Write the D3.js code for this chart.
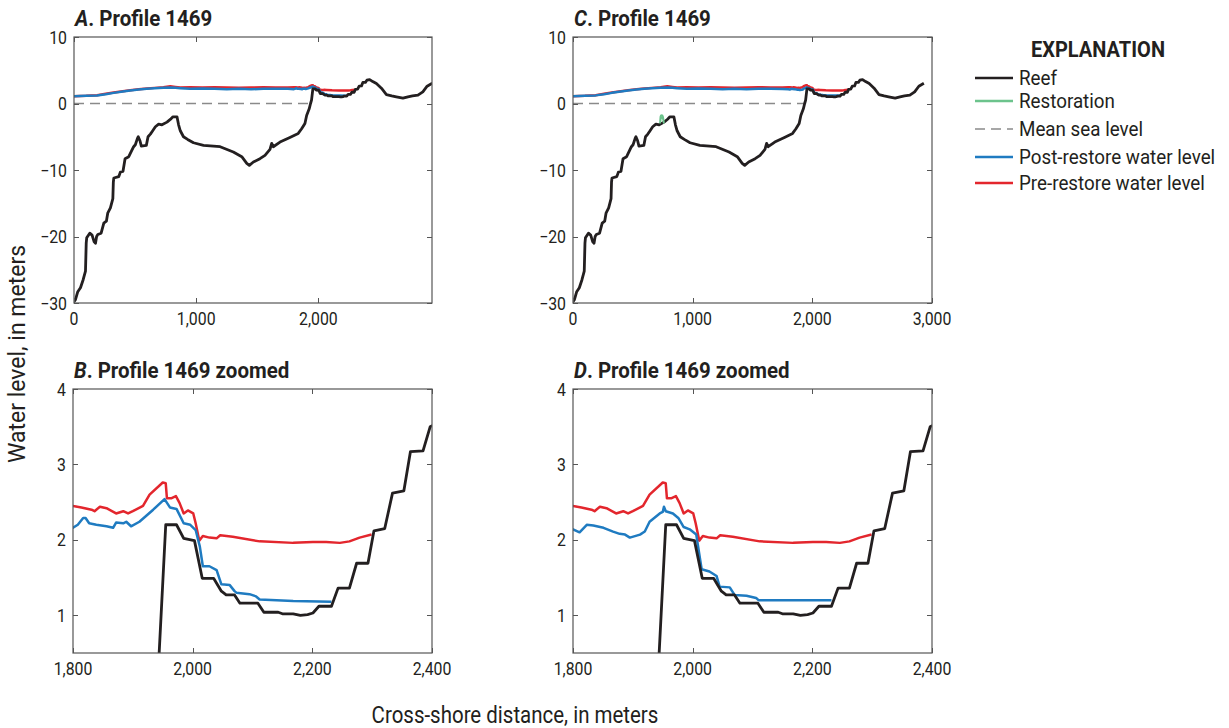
<!DOCTYPE html>
<html><head><meta charset="utf-8">
<script src="https://cdn.jsdelivr.net/npm/d3@7"></script>
<style>
body{margin:0;background:#fff;}
svg{display:block;font-family:Roboto,"Liberation Sans",sans-serif;}
</style></head>
<body><svg id="chart" width="1229" height="728"></svg>
<script>
// ---------- DATA ----------
const reefX = [0,12,31,53,75,94,100,104,129,148,165,176,185,195,222,244,265,276,298,318,322,326,366,380,401,418,448,469,488,502,520,526,540,551,592,606,625,640,666,693,720,761,788,810,843,856,870,896,930,978,1060,1196,1304,1373,1414,1435,1468,1522,1563,1604,1618,1631,1686,1767,1835,1863,1890,1904,1925,1936,1944,1955,1973,1985,2003,2016,2035,2048,2056,2070,2079,2109,2119,2143,2150,2168,2180,2192,2201,2211,2232,2243,2262,2274,2293,2303,2321,2334,2353,2364,2385,2397,2420,2445,2475,2516,2557,2600,2638,2692,2733,2770,2815,2855,2890,2932];
const reefY = [-29.8,-29.5,-28.3,-27.7,-26.5,-25.2,-21,-20.2,-19.5,-19.8,-20.8,-21,-20,-19.7,-19.5,-18,-17.7,-16.5,-15.7,-14.3,-11.8,-11.2,-11,-10.3,-10.2,-8.3,-8,-7.2,-6.5,-6.2,-5.2,-5,-5.6,-6.4,-6.3,-5.0,-4.6,-4.2,-3.5,-3.1,-3.2,-2.8,-2.4,-2.0,-2.0,-3.2,-4.1,-5.0,-5.4,-5.9,-6.3,-6.5,-7.3,-8.0,-9.0,-9.3,-8.8,-8.3,-7.8,-6.9,-6.0,-6.5,-5.8,-5.1,-4.5,-3.8,-3.0,-1.8,-0.8,0.0,0.5,2.2,2.2,2.02,1.99,1.49,1.49,1.32,1.27,1.27,1.16,1.16,1.04,1.04,1.02,1.02,1.0,1.01,1.03,1.12,1.12,1.36,1.36,1.69,1.69,2.12,2.15,2.62,2.65,3.17,3.18,3.5,3.6,3.3,3.0,2.3,1.35,1.15,1.0,0.8,1.0,1.15,1.25,1.75,2.6,3.05];

const restorationX = [727,729,731,735,741,747,752,756,759,760,758,755,750,744,738,733,730,727];
const restorationY = [-3.0,-2.4,-2.0,-1.8,-1.75,-1.8,-2.0,-2.4,-2.8,-3.0,-2.9,-2.5,-2.2,-2.1,-2.1,-2.3,-2.7,-3.0];

const mslX = [0,1935];
const mslY = [0,0];

const preX = [0,100,189,260,325,400,460,530,596,660,732,788,830,870,950,1050,1150,1250,1350,1450,1550,1650,1750,1800,1814,1831,1836,1845,1856,1872,1884,1892,1900,1917,1928,1950,1955,1957,1964,1972,1978,1985,1992,2001,2005,2011,2017,2028,2040,2046,2067,2112,2168,2201,2223,2246,2262,2279,2299];
const preY = [1.1,1.15,1.25,1.45,1.65,1.85,2.0,2.15,2.25,2.35,2.45,2.6,2.5,2.4,2.45,2.4,2.45,2.4,2.38,2.4,2.45,2.4,2.42,2.45,2.43,2.40,2.38,2.44,2.42,2.35,2.38,2.35,2.38,2.45,2.6,2.76,2.75,2.55,2.55,2.58,2.49,2.35,2.39,2.35,2.22,1.99,2.05,2.03,2.02,2.06,2.04,1.98,1.96,1.97,1.97,1.96,1.98,2.03,2.07];

// post-restore water level, panels A and B
const postABX = [0,100,189,260,325,400,460,530,596,660,732,788,830,870,950,1050,1150,1250,1350,1450,1550,1650,1750,1800,1808,1817,1821,1827,1839,1856,1867,1872,1884,1889,1897,1911,1934,1953,1962,1973,1985,1996,2005,2012,2017,2028,2040,2048,2062,2070,2073,2095,2106,2112,2168,2232];
const postABY = [1.1,1.15,1.22,1.4,1.6,1.8,1.95,2.1,2.2,2.3,2.35,2.4,2.35,2.3,2.2,2.25,2.2,2.15,2.2,2.15,2.2,2.2,2.2,2.16,2.2,2.29,2.29,2.22,2.2,2.18,2.16,2.23,2.22,2.24,2.18,2.24,2.4,2.54,2.43,2.41,2.22,2.2,2.13,1.91,1.65,1.65,1.6,1.41,1.4,1.32,1.3,1.28,1.25,1.21,1.19,1.18];

// post-restore water level, panels C and D
const postCDX = [0,100,189,260,325,400,460,530,596,660,732,788,830,870,950,1050,1150,1250,1350,1450,1550,1650,1750,1800,1811,1823,1834,1851,1867,1878,1887,1895,1912,1920,1928,1945,1950,1952,1955,1967,1976,1985,1995,2006,2015,2028,2040,2045,2062,2070,2090,2106,2110,2232];
const postCDY = [1.1,1.15,1.22,1.4,1.6,1.8,1.95,2.1,2.2,2.3,2.35,2.4,2.35,2.3,2.2,2.25,2.2,2.15,2.2,2.15,2.2,2.2,2.18,2.14,2.1,2.2,2.19,2.16,2.11,2.08,2.07,2.03,2.07,2.11,2.24,2.35,2.37,2.44,2.38,2.35,2.29,2.17,2.14,2.07,1.61,1.58,1.52,1.38,1.37,1.27,1.26,1.23,1.2,1.2];

const profileXTicksA = [0,1000,2000];
const profileXTicksC = [0,1000,2000,3000];
const profileYTicks = [-30,-20,-10,0,10];
const zoomXTicks = [1800,2000,2200,2400];
const zoomYTicks = [1,2,3,4];

const legendLabels = ["Reef","Restoration","Mean sea level","Post-restore water level","Pre-restore water level"];

// ---------- STYLE ----------
const C = {reef:"#231f20", rest:"#6cc38c", msl:"#8a8a8a", post:"#1f7bc1", pre:"#e3262d", axis:"#555", text:"#231f20"};
const zip = (xs,ys)=>xs.map((x,i)=>[x,ys[i]]);

const svg = d3.select("#chart");
const fmt = d3.format(",");

// condensed-looking text helper
function addText(parent, x, y, str, o){
  const t = parent.append("text")
    .attr("transform", `translate(${x},${y})${o.rot?` rotate(${o.rot})`:""} scale(${o.sx||1},1)`)
    .attr("text-anchor", o.anchor||"start")
    .attr("font-size", o.size).attr("fill", C.text);
  if(o.weight) t.attr("font-weight", o.weight);
  if(str!==null) t.text(str);
  return t;
}

const panels = [
  {letter:"A", title:"Profile 1469", x0:74, x1:432, y0:37, y1:303, xd:[0,2930], yd:[-30,10], xt:profileXTicksA, yt:profileYTicks, post:zip(postABX,postABY), rest:false},
  {letter:"C", title:"Profile 1469", x0:573, x1:932, y0:37, y1:303, xd:[0,3000], yd:[-30,10], xt:profileXTicksC, yt:profileYTicks, post:zip(postCDX,postCDY), rest:true},
  {letter:"B", title:"Profile 1469 zoomed", x0:73, x1:432, y0:389, y1:653, xd:[1800,2400], yd:[0.5,4], xt:zoomXTicks, yt:zoomYTicks, post:zip(postABX,postABY), rest:false},
  {letter:"D", title:"Profile 1469 zoomed", x0:573, x1:932, y0:389, y1:653, xd:[1800,2400], yd:[0.5,4], xt:zoomXTicks, yt:zoomYTicks, post:zip(postCDX,postCDY), rest:true}
];

panels.forEach((p,i)=>{
  const x = d3.scaleLinear().domain(p.xd).range([p.x0,p.x1]);
  const y = d3.scaleLinear().domain(p.yd).range([p.y1,p.y0]);
  const g = svg.append("g");
  const cid = "clip"+i;
  svg.append("clipPath").attr("id",cid).append("rect")
    .attr("x",p.x0).attr("y",p.y0).attr("width",p.x1-p.x0).attr("height",p.y1-p.y0);
  const line = d3.line().x(d=>x(d[0])).y(d=>y(d[1]));
  const plot = g.append("g").attr("clip-path",`url(#${cid})`);

  plot.append("path").datum(zip(mslX,mslY)).attr("d",line)
    .attr("fill","none").attr("stroke",C.msl).attr("stroke-width",1.6).attr("stroke-dasharray","10,6");
  plot.append("path").datum(zip(preX,preY)).attr("d",line)
    .attr("fill","none").attr("stroke",C.pre).attr("stroke-width",2.5).attr("stroke-linejoin","round");
  plot.append("path").datum(p.post).attr("d",line)
    .attr("fill","none").attr("stroke",C.post).attr("stroke-width",2.5).attr("stroke-linejoin","round");
  plot.append("path").datum(zip(reefX,reefY)).attr("d",line)
    .attr("fill","none").attr("stroke",C.reef).attr("stroke-width",2.8).attr("stroke-linejoin","round");
  if(p.rest){
    plot.append("path").datum(zip(restorationX,restorationY)).attr("d",line)
      .attr("fill","none").attr("stroke",C.rest).attr("stroke-width",1.8);
  }

  g.append("rect").attr("x",p.x0).attr("y",p.y0).attr("width",p.x1-p.x0).attr("height",p.y1-p.y0)
    .attr("fill","none").attr("stroke",C.axis).attr("stroke-width",1.2);
  const tl = 5;
  p.xt.forEach(t=>{
    const xx = Math.round(x(t))+0.5;
    g.append("line").attr("x1",xx).attr("x2",xx).attr("y1",p.y1).attr("y2",p.y1-tl).attr("stroke",C.axis);
    g.append("line").attr("x1",xx).attr("x2",xx).attr("y1",p.y0).attr("y2",p.y0+tl).attr("stroke",C.axis);
    addText(g, x(t), p.y1+22, fmt(t), {size:18, sx:0.88, anchor:"middle"});
  });
  p.yt.forEach(t=>{
    const yy = Math.round(y(t))+0.5;
    g.append("line").attr("x1",p.x0).attr("x2",p.x0+tl).attr("y1",yy).attr("y2",yy).attr("stroke",C.axis);
    g.append("line").attr("x1",p.x1).attr("x2",p.x1-tl).attr("y1",yy).attr("y2",yy).attr("stroke",C.axis);
    addText(g, p.x0-7, y(t)+6.5, fmt(t), {size:18, sx:0.88, anchor:"end"});
  });
  const tt = addText(g, p.x0+1, p.y0-11, null, {size:22, sx:0.93, weight:"bold"});
  tt.append("tspan").attr("font-style","italic").text(p.letter);
  tt.append("tspan").text(". "+p.title);
});

// axis titles
addText(svg, 25, 354, "Water level, in meters", {size:23, sx:1, rot:-90, anchor:"middle"});
addText(svg, 515, 723, "Cross-shore distance, in meters", {size:23, sx:0.89, anchor:"middle"});

// legend
const lg = svg.append("g");
addText(lg, 1098, 57, "EXPLANATION", {size:22.5, sx:0.89, weight:"bold", anchor:"middle"});
const legStyles = [
  {c:C.reef,w:2.6,dash:null},
  {c:C.rest,w:2.4,dash:null},
  {c:C.msl,w:1.6,dash:"10,6"},
  {c:C.post,w:2.6,dash:null},
  {c:C.pre,w:2.6,dash:null}
];
const legY = [78,101,129,157,183];
legendLabels.forEach((lab,i)=>{
  const s = legStyles[i];
  const ln = lg.append("line").attr("x1",975).attr("x2",1013).attr("y1",legY[i]).attr("y2",legY[i])
    .attr("stroke",s.c).attr("stroke-width",s.w);
  if(s.dash) ln.attr("stroke-dasharray",s.dash);
  addText(lg, 1019, legY[i]+6.5, lab, {size:20, sx:0.94});
});
</script></body></html>
